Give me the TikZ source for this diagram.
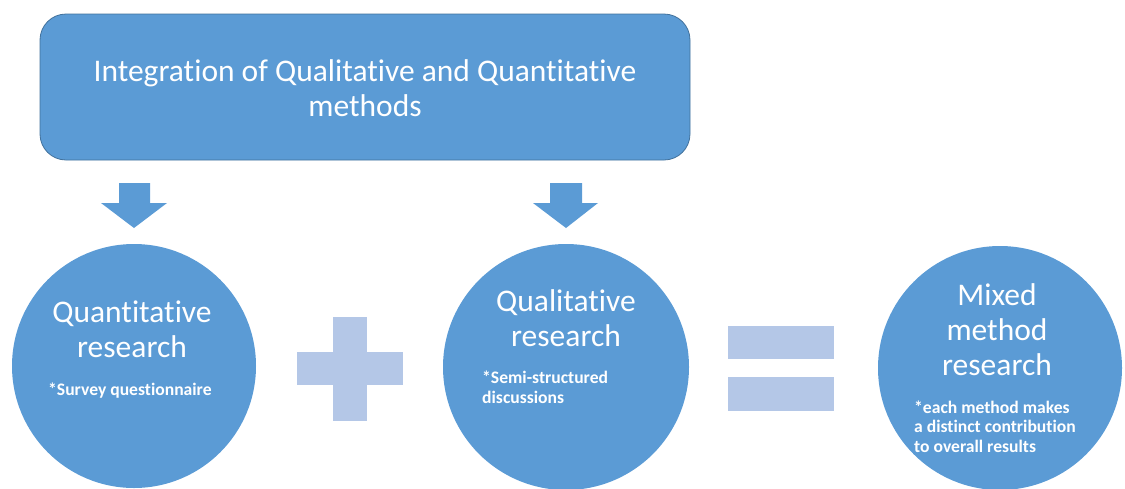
\documentclass[tikz,border=0pt]{standalone}
\usepackage{fontspec}
\setmainfont[Ligatures=NoCommon]{Carlito}
\definecolor{mainblue}{HTML}{5B9BD5}
\definecolor{edgeblue}{HTML}{41719C}
\definecolor{lightblue}{HTML}{B4C7E7}
\tikzset{
  bigtxt/.style={text=white,font=\fontsize{31.5}{35}\selectfont,align=center,anchor=base,inner sep=0pt},
  smalltxt/.style={text=white,font=\fontsize{17.6}{19.5}\selectfont\bfseries,align=left,anchor=base west,inner sep=0pt},
  bubble/.style={circle,fill=mainblue,draw=none,inner sep=0pt},
  symbolbar/.style={fill=lightblue,draw=none},
  downarrow/.style={fill=mainblue,draw=none}
}
\begin{document}
\begin{tikzpicture}[x=1pt,y=-1pt]
\useasboundingbox (0,0) rectangle (1125,488);
% top box
\node[draw=edgeblue,line width=0.8pt,fill=mainblue,rounded corners=26pt,minimum width=650pt,minimum height=146pt,inner sep=0pt] (top) at (365,87) {};
\node[bigtxt] (toptxt) at (365,116) {Integration of Qualitative and Quantitative\\methods};
% arrows
\fill[downarrow] (119,183) -- (150,183) -- (150,203) -- (167,203) -- (134,228) -- (101,203) -- (119,203) -- cycle;
\fill[downarrow] (550,183) -- (582,183) -- (582,203) -- (598,203) -- (566,228) -- (533,203) -- (550,203) -- cycle;
% circles
\node[bubble,minimum size=244pt] (quant) at (134,366) {};
\node[bubble,minimum size=246pt] (qual) at (566,367) {};
\node[bubble,minimum size=244pt] (mixed) at (1000,368) {};
% texts
\node[bigtxt] (quanth) at (132,357) {Quantitative\\research};
\node[smalltxt] (quants) at (48,395) {*Survey questionnaire};
\node[bigtxt] (qualh) at (566,346) {Qualitative\\research};
\node[smalltxt] (quals) at (482,403) {*Semi-structured\\discussions};
\node[bigtxt] (mixedh) at (997,375) {Mixed\\method\\research};
\node[smalltxt] (mixeds) at (914,452) {*each method makes\\a distinct contribution\\to overall results};
% plus
\fill[symbolbar] (333,317) rectangle (367,421);
\fill[symbolbar] (297,352) rectangle (403,385);
% equals
\fill[symbolbar] (728,326) rectangle (834,359);
\fill[symbolbar] (728,377) rectangle (834,411);
\end{tikzpicture}
\end{document}
